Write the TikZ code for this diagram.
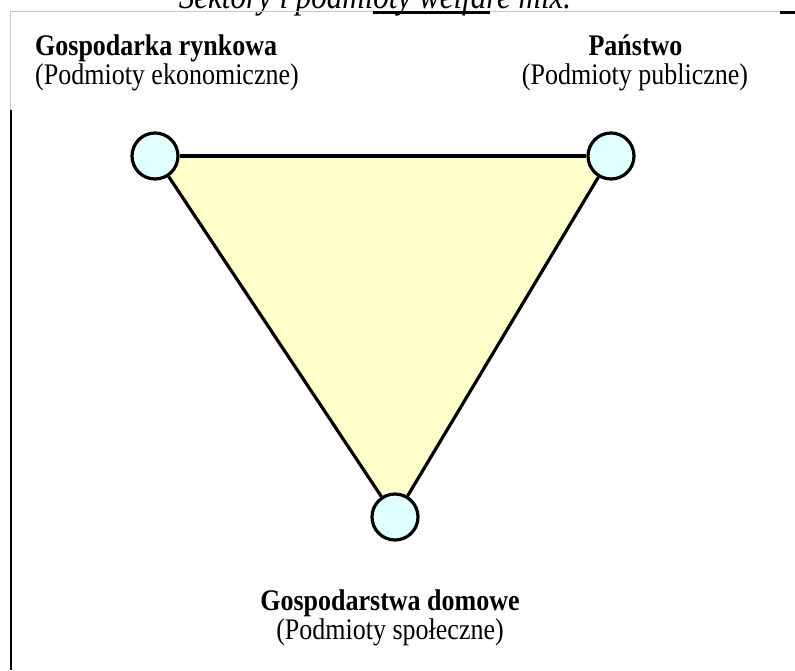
\documentclass[tikz,border=0pt]{standalone}
\usepackage{fontspec}
\setmainfont{Liberation Serif}
\usetikzlibrary{backgrounds}
\definecolor{trifill}{HTML}{FFFFCC}
\definecolor{circfill}{HTML}{E0FFFF}
\definecolor{rulegray}{HTML}{C8C8C8}
\newcommand{\tallt}[1]{\scalebox{1}[1.15]{#1}}
\tikzset{
  vertex/.style={circle, draw=black, line width=3.2pt, fill=circfill, minimum size=46pt, inner sep=0pt},
  edge/.style={draw=black, line width=3.2pt},
  headtext/.style={font=\fontsize{26}{26}\selectfont\bfseries, inner sep=0pt},
  subtext/.style={font=\fontsize{26}{26}\selectfont, inner sep=0pt},
  titletext/.style={font=\fontsize{31}{31}\selectfont\itshape, inner sep=0pt},
  thinrule/.style={draw=rulegray, line width=1.2pt},
  thickrule/.style={draw=black, line width=2.6pt}
}
\begin{document}
\begin{tikzpicture}[x=1pt, y=-1pt]
  \useasboundingbox (0,0) rectangle (795,670);
  \clip (0,0) rectangle (795,670);
  % title (cut at top, as in the reference)
  \node[titletext, anchor=base] (title) at (375,8) {\tallt{Sektory i podmioty welfare mix.}};
  % frame lines
  \draw[thinrule] (10,11.5) -- (795,11.5);
  \draw[thinrule] (10.5,11) -- (10.5,110);
  \draw[thickrule] (373,12.5) -- (490,12.5);
  \draw[thickrule] (780,12.5) -- (795,12.5);
  \draw[thickrule] (11,110) -- (11,670);
  % vertices
  \node[vertex] (L) at (155,156) {};
  \node[vertex] (R) at (611,156) {};
  \node[vertex] (B) at (395,517) {};
  \begin{pgfonlayer}{background}
    \fill[trifill] (L.center) -- (R.center) -- (B.center) -- cycle;
  \end{pgfonlayer}
  \draw[edge] (L) -- (R);
  \draw[edge] (R) -- (B);
  \draw[edge] (B) -- (L);
  % labels
  \node[headtext, anchor=base west] (lh) at (35,55) {\tallt{Gospodarka rynkowa}};
  \node[subtext, anchor=base west] (ls) at (35,84) {\tallt{(Podmioty ekonomiczne)}};
  \node[headtext, anchor=base] (rh) at (635.5,55) {\tallt{Państwo}};
  \node[subtext, anchor=base] (rs) at (635,84) {\tallt{(Podmioty publiczne)}};
  \node[headtext, anchor=base] (bh) at (390,610) {\tallt{Gospodarstwa domowe}};
  \node[subtext, anchor=base] (bs) at (390,639) {\tallt{(Podmioty społeczne)}};
\end{tikzpicture}
\end{document}
